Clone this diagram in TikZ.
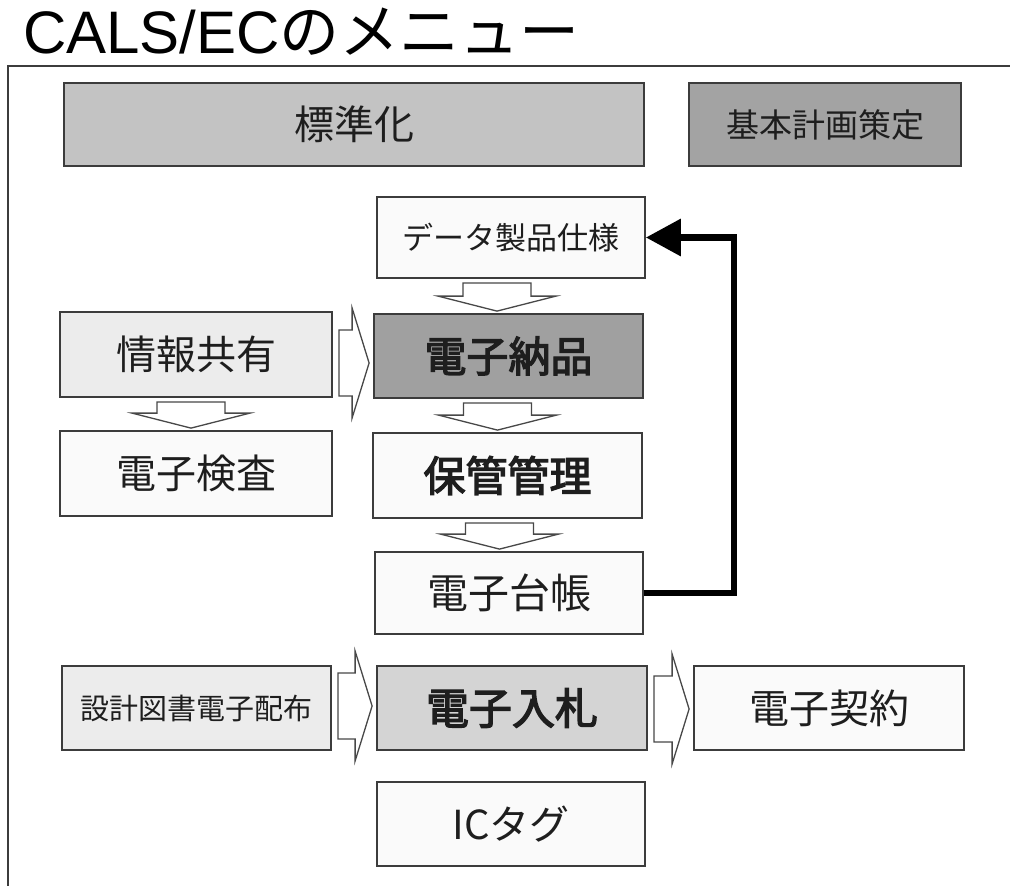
\documentclass[tikz,border=0pt]{standalone}
\usepackage{fontspec}
\setmainfont{Noto Sans CJK JP}
\newfontfamily\latfont{Liberation Sans}
\newfontfamily\semibold[FakeBold=3]{Noto Sans CJK JP}
\usetikzlibrary{calc,arrows.meta}
\definecolor{boxline}{HTML}{3C3C3C}
\definecolor{arrline}{HTML}{484848}
\definecolor{fstd}{HTML}{C3C3C3}
\definecolor{fkihon}{HTML}{A3A3A3}
\definecolor{fnohin}{HTML}{A0A0A0}
\definecolor{flight}{HTML}{ECECEC}
\definecolor{fmid}{HTML}{D4D4D4}
\definecolor{fwhite}{HTML}{FAFAFA}
\definecolor{txt}{HTML}{1E1E1E}
\tikzset{
  menubox/.style={draw=boxline, line width=1.8pt, inner sep=0pt, text=txt, align=center},
  barrow/.style={draw=arrline, fill=white, line width=1.3pt, line join=miter},
  fb/.style={font=\fontsize{#1}{#1}\selectfont},
  fbb/.style={font=\fontsize{#1}{#1}\selectfont\semibold},
}
% down block arrow: from, to, dx (pt)
\newcommand\DArrow[3]{%
  \draw[barrow] let \p1=(#1.south), \p2=(#2.north) in
    (\x1+#3pt-34pt,\y1-4pt) -- (\x1+#3pt+34pt,\y1-4pt) -- (\x1+#3pt+34pt,\y2+17pt)
    -- (\x1+#3pt+59pt,\y2+17pt) -- (\x1+#3pt,\y2+2pt) -- (\x1+#3pt-59pt,\y2+17pt)
    -- (\x1+#3pt-34pt,\y2+17pt) -- cycle;}
% right block arrow: from, to, dy (canvas pt)
\newcommand\RArrow[3]{%
  \draw[barrow] let \p1=(#1.east), \p2=(#2.west) in
    (\x1+6pt,\y2+#3pt+33pt) -- (\x2-21pt,\y2+#3pt+33pt) -- (\x2-21pt,\y2+#3pt+55pt)
    -- (\x2-4pt,\y2+#3pt) -- (\x2-21pt,\y2+#3pt-55pt) -- (\x2-21pt,\y2+#3pt-33pt)
    -- (\x1+6pt,\y2+#3pt-33pt) -- cycle;}
\begin{document}
\begin{tikzpicture}[x=1pt,y=-1pt]
\fill[white] (0,0) rectangle (1010,886);
\useasboundingbox (0,0) rectangle (1010,886);
% title
\node[anchor=base west, inner sep=0pt, font=\fontsize{60}{60}\selectfont] (title) at (23,53)
  {{\latfont CALS/EC}のメニュー};
% frame
\coordinate (fbl) at (8,886);
\coordinate (ftl) at (8,66);
\coordinate (ftr) at (1010,66);
\draw[boxline, line width=1.6pt] (fbl) -- (ftl) -- (ftr);
% boxes
\node[menubox, fill=fstd, minimum width=580pt, minimum height=83pt, fb=40] (std) at (354,124.5) {標準化};
\node[menubox, fill=fkihon, minimum width=272pt, minimum height=83pt, fb=33] (kihon) at (825,124.5) {基本計画策定};
\node[menubox, fill=fwhite, minimum width=268pt, minimum height=81pt, fb=31] (dps) at (511,237.5) {データ製品仕様};
\node[menubox, fill=fnohin, minimum width=269pt, minimum height=84pt, fbb=42] (nohin) at (508.5,356) {電子納品};
\node[menubox, fill=flight, minimum width=272pt, minimum height=85pt, fb=40] (joho) at (196,354.5) {情報共有};
\node[menubox, fill=fwhite, minimum width=272pt, minimum height=85pt, fb=40] (kensa) at (196,473.5) {電子検査};
\node[menubox, fill=fwhite, minimum width=269pt, minimum height=85pt, fbb=42] (hokan) at (507.5,475.5) {保管管理};
\node[menubox, fill=fwhite, minimum width=268pt, minimum height=82pt, fb=41] (daicho) at (509,593) {電子台帳};
\node[menubox, fill=flight, minimum width=269pt, minimum height=84pt, fb=29] (sekkei) at (196.5,708) {設計図書電子配布};
\node[menubox, fill=fmid, minimum width=270pt, minimum height=84pt, fbb=43] (nyusatsu) at (512,708) {電子入札};
\node[menubox, fill=fwhite, minimum width=270pt, minimum height=84pt, fb=40] (keiyaku) at (829,708) {電子契約};
\node[menubox, fill=fwhite, minimum width=268pt, minimum height=84pt, fb=40] (ictag) at (511,824) {ICタグ};
% block arrows
\DArrow{dps}{nohin}{-14}
\DArrow{nohin}{hokan}{-11}
\DArrow{hokan}{daicho}{-8}
\DArrow{joho}{kensa}{-5}
\RArrow{joho}{nohin}{-7}
\RArrow{sekkei}{nyusatsu}{2}
\RArrow{nyusatsu}{keiyaku}{-1}
% feedback arrow
\draw[line width=6.5pt, line join=miter, -{Triangle[length=35pt,width=36pt]}]
  (daicho.east) -- ++(90,0) |- (dps.east);
\end{tikzpicture}
\end{document}
